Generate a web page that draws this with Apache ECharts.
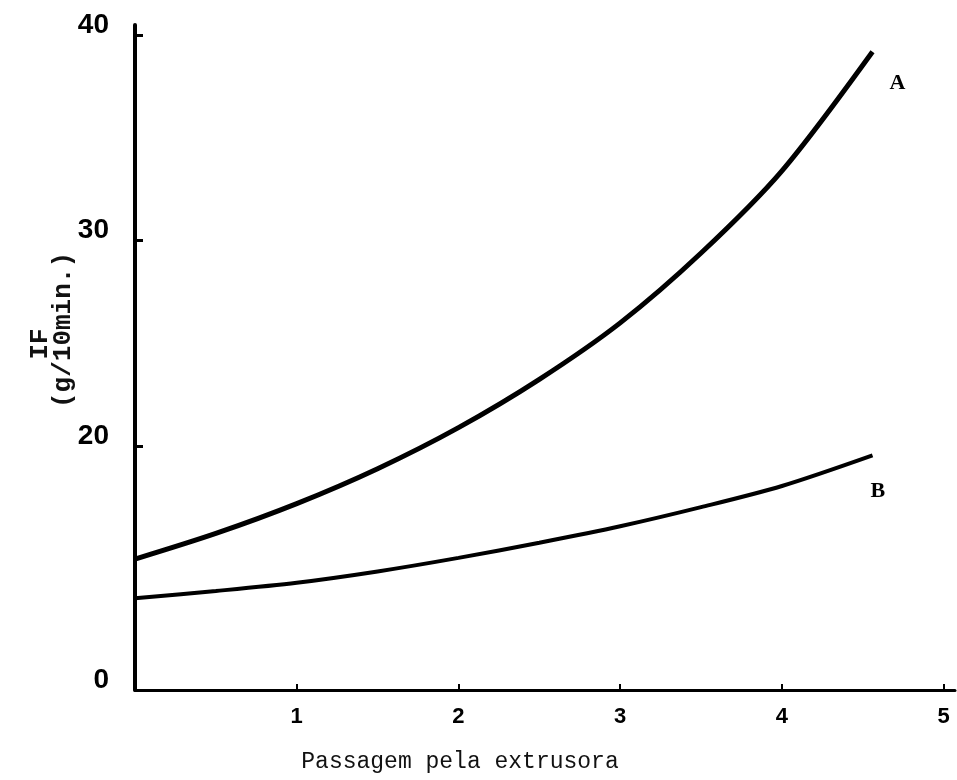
<!DOCTYPE html>
<html>
<head>
<meta charset="utf-8">
<title>IF x Passagem pela extrusora</title>
<script src="https://cdn.jsdelivr.net/npm/echarts@6/dist/echarts.min.js"></script>
<style>
    html, body { margin: 0; padding: 0; background: #fff; }
    #chart { width: 957px; height: 780px; }
</style>
</head>
<body>
<div id="chart"></div>
<script>
    // passagens pela extrusora (eixo x)
    var passagens = [0, 0.5, 1, 1.5, 2, 2.5, 3, 3.5, 4, 4.56];
    // IF (g/10min.)
    var curvaA = [14.5, 15.75, 17.2, 18.9, 20.9, 23.25, 26.0, 29.4, 33.4, 39.2];
    var curvaB = [12.6, 12.95, 13.35, 13.9, 14.56, 15.3, 16.1, 17.03, 18.06, 19.55];
    // rotulos dos eixos
    var xTicks = [1, 2, 3, 4, 5];
    var yTicks = [20, 30, 40];
    var yMin = 8.13;   // eixo interrompido: a origem aparece como "0"

    function pares(xs, ys) {
        var out = [];
        for (var i = 0; i < xs.length; i++) out.push([xs[i], ys[i]]);
        return out;
    }

    var chart = echarts.init(document.getElementById('chart'));
    var option = {
        animation: false,
        backgroundColor: '#fff',
        grid: { left: 135, right: 2, top: 25, bottom: 90 },
        xAxis: {
            type: 'value',
            min: 0,
            max: 5.07,
            name: 'Passagem pela extrusora',
            nameLocation: 'middle',
            nameGap: 60,
            nameTextStyle: { fontFamily: 'Liberation Mono', fontSize: 23, color: '#111', padding: [0, 170, 0, 0] },
            axisLine: { lineStyle: { color: '#000', width: 3 } },
            axisTick: { show: true, inside: true, length: 6, lineStyle: { color: '#000', width: 2 }, customValues: xTicks },
            axisLabel: {
                customValues: xTicks,
                margin: 16,
                fontFamily: 'Liberation Sans',
                fontWeight: 'bold',
                fontSize: 22,
                color: '#000'
            },
            splitLine: { show: false }
        },
        yAxis: {
            type: 'value',
            min: yMin,
            max: 40.5,
            axisLine: { show: true, lineStyle: { color: '#000', width: 4 } },
            axisTick: { show: true, inside: true, length: 8, lineStyle: { color: '#000', width: 3 }, customValues: yTicks },
            axisLabel: {
                customValues: [yMin].concat(yTicks),
                margin: 26,
                verticalAlign: 'bottom',
                lineHeight: 20,
                fontFamily: 'Liberation Sans',
                fontWeight: 'bold',
                fontSize: 28,
                color: '#000',
                formatter: function (v) {
                    return v === yMin ? '0' : String(v);
                }
            },
            splitLine: { show: false }
        },
        graphic: [{
            type: 'text',
            x: 40,
            y: 344,
            rotation: Math.PI / 2,
            style: {
                text: 'IF',
                font: 'bold 26px "Liberation Mono"',
                fill: '#111',
                align: 'center',
                verticalAlign: 'middle'
            }
        }, {
            type: 'text',
            x: 63,
            y: 330,
            rotation: Math.PI / 2,
            style: {
                text: '(g/10min.)',
                font: 'bold 26px "Liberation Mono"',
                fill: '#111',
                align: 'center',
                verticalAlign: 'middle'
            }
        }],
        series: [{
            name: 'A',
            type: 'line',
            smooth: 0.3,
            symbol: 'none',
            data: pares(passagens, curvaA),
            lineStyle: { color: '#000', width: 5 },
            endLabel: {
                show: true,
                formatter: 'A',
                offset: [9, 32],
                fontFamily: 'Liberation Serif',
                fontWeight: 'bold',
                fontSize: 22,
                color: '#000'
            }
        }, {
            name: 'B',
            type: 'line',
            smooth: 0.3,
            symbol: 'none',
            data: pares(passagens, curvaB),
            lineStyle: { color: '#000', width: 4 },
            endLabel: {
                show: true,
                formatter: 'B',
                offset: [-10, 36],
                fontFamily: 'Liberation Serif',
                fontWeight: 'bold',
                fontSize: 22,
                color: '#000'
            }
        }]
    };
    chart.setOption(option);
</script>
</body>
</html>
